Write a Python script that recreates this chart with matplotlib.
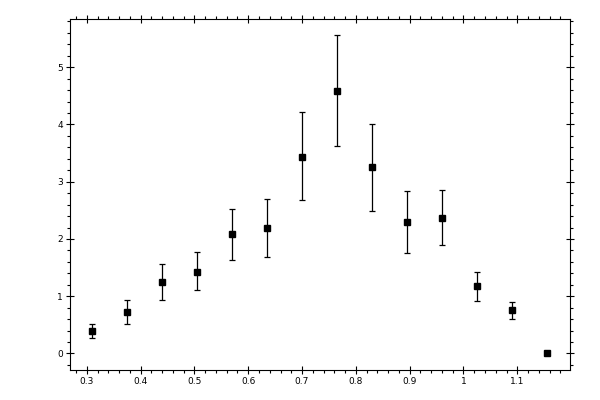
import matplotlib
matplotlib.use("Agg")
import matplotlib.pyplot as plt
from matplotlib.ticker import MultipleLocator, FormatStrFormatter

# data
x_vals = [0.31, 0.375, 0.44, 0.505, 0.57, 0.635, 0.70, 0.765, 0.83, 0.895, 0.96, 1.025, 1.09, 1.155]
y_vals = [0.39, 0.72, 1.24, 1.43, 2.08, 2.19, 3.44, 4.59, 3.25, 2.29, 2.36, 1.18, 0.75, 0.0]
y_top = [0.51, 0.93, 1.56, 1.77, 2.53, 2.69, 4.21, 5.56, 4.00, 2.83, 2.85, 1.43, 0.89, 0.0]
y_bot = [0.27, 0.51, 0.93, 1.10, 1.63, 1.68, 2.68, 3.62, 2.48, 1.75, 1.89, 0.91, 0.60, 0.0]

err_low = [y - b for y, b in zip(y_vals, y_bot)]
err_high = [t - y for y, t in zip(y_vals, y_top)]

fig = plt.figure(figsize=(6, 4), dpi=100)
ax = fig.add_axes([0.116, 0.075, 0.834, 0.877])

ax.errorbar(x_vals, y_vals, yerr=[err_low, err_high], fmt='s', color='black',
            markersize=5, elinewidth=0.9, capsize=2.3, capthick=0.9)

ax.set_xlim(0.268, 1.198)
ax.set_ylim(-0.29, 5.84)

ax.xaxis.set_major_locator(MultipleLocator(0.1))
ax.xaxis.set_minor_locator(MultipleLocator(0.02))
ax.yaxis.set_major_locator(MultipleLocator(1))
ax.yaxis.set_minor_locator(MultipleLocator(0.2))

def fmt_x(v, pos):
    s = "%.1f" % v
    if s.endswith(".0"):
        s = s[:-2]
    return s

ax.xaxis.set_major_formatter(plt.FuncFormatter(fmt_x))
ax.yaxis.set_major_formatter(FormatStrFormatter("%d"))

ax.tick_params(which='major', direction='inout', length=5.8, width=0.8,
               top=True, right=True, labelsize=6.5, pad=2)
ax.tick_params(which='minor', direction='out', length=2.4, width=0.8,
               top=True, right=True)
for sp in ax.spines.values():
    sp.set_linewidth(0.8)

fig.savefig("out.png", dpi=100)
